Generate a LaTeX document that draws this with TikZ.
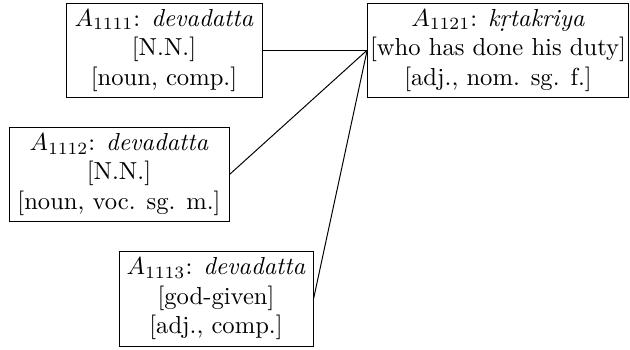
\documentclass[tikz,border=0pt]{standalone}
\usepackage{amsmath,amssymb}
\usetikzlibrary{positioning}

\begin{document}
\begin{tikzpicture}[
  word/.style={rectangle, draw, thin, align=center, inner xsep=1pt, inner ysep=2pt, minimum height=1.345cm},
  link/.style={thin}
]
  \useasboundingbox (0,0) rectangle (9.0,5.0);
  \node[word, minimum width=2.80cm] (w1111) at (2.343,4.283) {$A_{1111}$: \textit{devadatta}\\{}[N.N.]\\{}[noun, comp.]};
  \node[word, minimum width=3.715cm] (w1121) at (7.115,4.283) {$A_{1121}$: \textit{k\d{r}takriya}\\{}[who has done his duty]\\{}[adj., nom. sg. f.]};
  \node[word, minimum width=3.143cm] (w1112) at (1.700,2.507) {$A_{1112}$: \textit{devadatta}\\{}[N.N.]\\{}[noun, voc. sg. m.]};
  \node[word, minimum width=2.772cm] (w1113) at (3.086,0.729) {$A_{1113}$: \textit{devadatta}\\{}[god-given]\\{}[adj., comp.]};
  \draw[link] (w1111.east) -- (w1121.west);
  \draw[link] (w1112.east) -- (w1121.west);
  \draw[link] (w1113.east) -- (w1121.west);
\end{tikzpicture}
\end{document}
